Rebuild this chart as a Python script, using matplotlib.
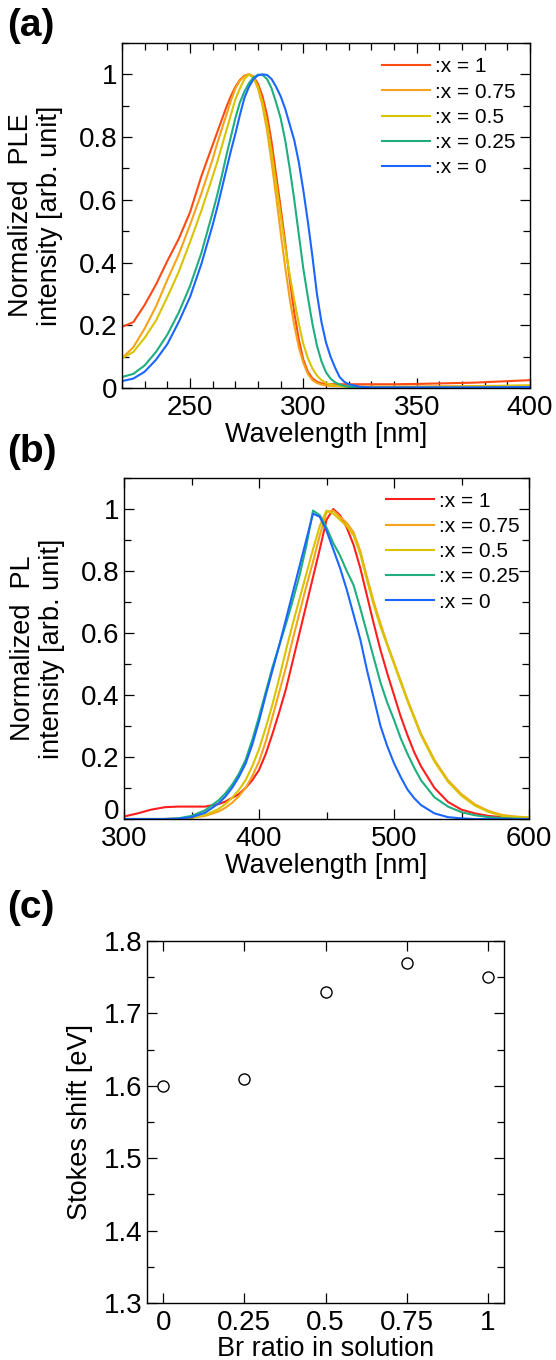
import matplotlib
matplotlib.use("Agg")
from matplotlib import pyplot as plt
from matplotlib.ticker import MultipleLocator, FuncFormatter

plt.rcParams["font.family"] = ["Liberation Sans", "DejaVu Sans"]

labels = [":x = 1", ":x = 0.75", ":x = 0.5", ":x = 0.25", ":x = 0"]
colors_a = ["#ff4a14", "#f7a21b", "#d8c400", "#1fae7d", "#1a66ff"]
colors_b = ["#ff1e1e", "#f7a21b", "#d8c400", "#1fae7d", "#1a66ff"]

# (a) PLE spectra
ple_wl = [220, 225, 230, 235, 240, 245, 250, 255, 260,
          262, 264, 266, 268, 270, 272, 274, 276, 278, 280, 282, 284, 286, 288, 290,
          292, 294, 296, 298, 300, 302, 304, 306, 308, 310, 312, 314, 316, 318, 320,
          325, 330, 340, 350, 375, 400]
ple_x1 = [0.195, 0.21, 0.265, 0.33, 0.405, 0.475, 0.56, 0.675, 0.775,
          0.815, 0.855, 0.895, 0.93, 0.96, 0.982, 0.996, 1.0, 0.993, 0.97, 0.93, 0.87, 0.785, 0.68, 0.575,
          0.465, 0.345, 0.24, 0.155, 0.09, 0.052, 0.031, 0.02, 0.015, 0.013, 0.012, 0.012, 0.012, 0.012, 0.012,
          0.012, 0.012, 0.012, 0.013, 0.017, 0.025]
ple_x075 = [0.095, 0.13, 0.19, 0.26, 0.345, 0.425, 0.52, 0.62, 0.73,
            0.78, 0.825, 0.87, 0.915, 0.955, 0.98, 0.995, 1.0, 0.99, 0.955, 0.90, 0.82, 0.72, 0.61, 0.495,
            0.385, 0.285, 0.2, 0.13, 0.08, 0.045, 0.025, 0.016, 0.011, 0.008, 0.007, 0.006, 0.006, 0.005, 0.005,
            0.005, 0.005, 0.005, 0.005, 0.006, 0.008]
ple_x05 = [0.095, 0.115, 0.16, 0.215, 0.29, 0.37, 0.465, 0.565, 0.675,
           0.72, 0.77, 0.82, 0.87, 0.92, 0.955, 0.985, 1.0, 0.99, 0.96, 0.91, 0.84, 0.75, 0.65, 0.55,
           0.45, 0.36, 0.28, 0.205, 0.14, 0.095, 0.062, 0.04, 0.025, 0.016, 0.011, 0.008, 0.006, 0.005, 0.004,
           0.003, 0.003, 0.003, 0.003, 0.005, 0.008]
ple_x025 = [0.035, 0.045, 0.072, 0.115, 0.17, 0.24, 0.325, 0.43, 0.56,
            0.615, 0.675, 0.74, 0.8, 0.86, 0.91, 0.945, 0.972, 0.99, 0.999, 0.998, 0.985, 0.955, 0.91, 0.86,
            0.79, 0.70, 0.60, 0.49, 0.38, 0.29, 0.205, 0.135, 0.085, 0.05, 0.03, 0.018, 0.011, 0.007, 0.004,
            0.002, 0.001, 0.001, 0.001, 0.001, 0.002]
ple_x0 = [0.022, 0.03, 0.052, 0.09, 0.14, 0.21, 0.29, 0.395, 0.52,
          0.575, 0.635, 0.695, 0.755, 0.81, 0.87, 0.925, 0.96, 0.985, 0.997, 1.0, 0.998, 0.985, 0.96, 0.93,
          0.89, 0.84, 0.79, 0.72, 0.63, 0.53, 0.42, 0.30, 0.21, 0.145, 0.1, 0.065, 0.035, 0.02, 0.012,
          0.004, 0.002, 0.002, 0.002, 0.002, 0.003]

# (b) PL spectra
pl_wl = [300, 310, 320, 330, 340, 350, 360, 370,
         375, 380, 385, 390, 395, 400, 405, 410, 415, 420, 425, 430, 435, 440, 445,
         450, 455, 460, 465, 470, 475, 480, 485, 490, 495, 500, 505, 510, 515, 520,
         530, 540, 550, 560, 570, 580, 590, 600]
pl_x1 = [0.008, 0.018, 0.03, 0.038, 0.04, 0.04, 0.04, 0.048,
         0.056, 0.068, 0.08, 0.10, 0.125, 0.158, 0.21, 0.275, 0.345, 0.42, 0.51, 0.60, 0.69, 0.78, 0.87,
         0.965, 1.0, 0.98, 0.94, 0.885, 0.81, 0.72, 0.63, 0.545, 0.47, 0.40, 0.33, 0.27, 0.215, 0.17,
         0.10, 0.055, 0.03, 0.018, 0.01, 0.006, 0.004, 0.003]
pl_x075 = [0, 0, 0, 0, 0.001, 0.004, 0.01, 0.024,
           0.036, 0.052, 0.073, 0.10, 0.138, 0.185, 0.25, 0.33, 0.41, 0.49, 0.58, 0.665, 0.75, 0.83, 0.915,
           0.99, 0.995, 0.975, 0.955, 0.925, 0.865, 0.78, 0.70, 0.63, 0.565, 0.505, 0.445, 0.385, 0.33, 0.275,
           0.19, 0.125, 0.08, 0.047, 0.026, 0.013, 0.008, 0.005]
pl_x05 = [0, 0, 0, 0, 0.001, 0.004, 0.013, 0.032,
          0.048, 0.068, 0.093, 0.125, 0.17, 0.225, 0.295, 0.37, 0.455, 0.545, 0.63, 0.71, 0.79, 0.87, 0.945,
          0.995, 0.985, 0.965, 0.945, 0.915, 0.855, 0.77, 0.69, 0.62, 0.56, 0.50, 0.44, 0.38, 0.325, 0.27,
          0.185, 0.12, 0.075, 0.043, 0.023, 0.01, 0.006, 0.004]
pl_x025 = [0, 0, 0, 0, 0.002, 0.01, 0.028, 0.06,
           0.082, 0.11, 0.145, 0.19, 0.255, 0.33, 0.41, 0.49, 0.56, 0.63, 0.705, 0.785, 0.88, 0.995, 0.98,
           0.94, 0.89, 0.85, 0.80, 0.755, 0.68, 0.60, 0.52, 0.44, 0.375, 0.32, 0.26, 0.21, 0.165, 0.125,
           0.07, 0.04, 0.022, 0.012, 0.006, 0.003, 0.001, 0.0]
pl_x0 = [0, 0, 0, 0, 0.001, 0.006, 0.02, 0.05,
         0.072, 0.1, 0.135, 0.178, 0.24, 0.315, 0.4, 0.48, 0.56, 0.645, 0.73, 0.815, 0.9, 0.985, 0.975,
         0.93, 0.87, 0.81, 0.74, 0.66, 0.58, 0.48, 0.39, 0.30, 0.235, 0.18, 0.135, 0.095, 0.067, 0.045,
         0.018, 0.006, 0.002, 0.0, 0.0, 0.0, 0.0, 0.0]

# (c) Stokes shift
br_ratio = [0, 0.25, 0.5, 0.75, 1]
stokes_shift = [1.60, 1.61, 1.73, 1.77, 1.75]

W, H = 556, 1360
fig = plt.figure(figsize=(W / 100, H / 100), dpi=100)


def px_axes(left, top, right, bottom):
    return fig.add_axes([left / W, 1 - bottom / H, (right - left) / W, (bottom - top) / H])


fmt = FuncFormatter(lambda v, p: f"{v:g}")


def style_axes(ax):
    ax.tick_params(which="both", direction="in", top=True, right=True,
                   labelsize=20, width=0.9)
    ax.tick_params(which="major", length=7.5)
    ax.tick_params(which="minor", length=5)
    ax.tick_params(axis="x", pad=5)
    ax.tick_params(axis="y", pad=3.5)
    ax.xaxis.set_major_formatter(fmt)
    ax.yaxis.set_major_formatter(fmt)
    for s in ax.spines.values():
        s.set_linewidth(1.0)


leg_kw = dict(loc="upper left", frameon=False, fontsize=15, handlelength=2.3,
              handletextpad=0.25, labelspacing=0.3, borderpad=0, borderaxespad=0)

ax_a = px_axes(122, 43, 530, 388)
for y, c, lab in zip([ple_x1, ple_x075, ple_x05, ple_x025, ple_x0], colors_a, labels):
    ax_a.plot(ple_wl, y, color=c, lw=1.5, label=lab)
ax_a.set_xlim(220, 400)
ax_a.set_ylim(0, 1.1)
ax_a.xaxis.set_major_locator(MultipleLocator(50))
ax_a.xaxis.set_minor_locator(MultipleLocator(10))
ax_a.yaxis.set_major_locator(MultipleLocator(0.2))
ax_a.yaxis.set_minor_locator(MultipleLocator(0.1))
style_axes(ax_a)
ax_a.set_xlabel("Wavelength [nm]", fontsize=19.5, labelpad=1)
ax_a.set_ylabel("Normalized  PLE\nintensity [arb. unit]", fontsize=19.5, linespacing=1.15)
ax_a.yaxis.set_label_coords(-0.145, 0.5)
ax_a.legend(bbox_to_anchor=(0.637, 0.958), **leg_kw)

ax_b = px_axes(124, 478, 529, 819)
for y, c, lab in zip([pl_x1, pl_x075, pl_x05, pl_x025, pl_x0], colors_b, labels):
    ax_b.plot(pl_wl, y, color=c, lw=1.5, label=lab)
ax_b.set_xlim(300, 600)
ax_b.set_ylim(0, 1.1)
ax_b.xaxis.set_major_locator(MultipleLocator(100))
ax_b.xaxis.set_minor_locator(MultipleLocator(50))
ax_b.yaxis.set_major_locator(MultipleLocator(0.2))
ax_b.yaxis.set_minor_locator(MultipleLocator(0.1))
style_axes(ax_b)
ax_b.set_xlabel("Wavelength [nm]", fontsize=19.5, labelpad=1)
ax_b.set_ylabel("Normalized  PL\nintensity [arb. unit]", fontsize=19.5, linespacing=1.15)
ax_b.yaxis.set_label_coords(-0.145, 0.5)
ax_b.legend(bbox_to_anchor=(0.647, 0.96), **leg_kw)

ax_c = px_axes(147, 941, 504, 1303)
ax_c.plot(br_ratio, stokes_shift, "o", ms=8, mfc="white", mec="black", mew=1.0)
ax_c.set_xlim(-0.05, 1.05)
ax_c.set_ylim(1.3, 1.8)
ax_c.xaxis.set_major_locator(MultipleLocator(0.25))
ax_c.yaxis.set_major_locator(MultipleLocator(0.1))
ax_c.yaxis.set_minor_locator(MultipleLocator(0.05))
style_axes(ax_c)
ax_c.set_xlabel("Br ratio in solution", fontsize=19.5, labelpad=0)
ax_c.set_ylabel("Stokes shift [eV]", fontsize=19.5)
ax_c.yaxis.set_label_coords(-0.15, 0.5)

for lab, yb in [("(a)", 36.5), ("(b)", 461.5), ("(c)", 918)]:
    fig.text(7 / W, 1 - yb / H, lab, fontsize=28, fontweight="bold", va="baseline", ha="left")

# lift the zero label of (b) off the 300 label, as in the original
fig.canvas.draw()
for t in ax_b.get_yticklabels():
    if t.get_text() == "0":
        t.set_va("baseline")

fig.savefig("out.png", dpi=100)
